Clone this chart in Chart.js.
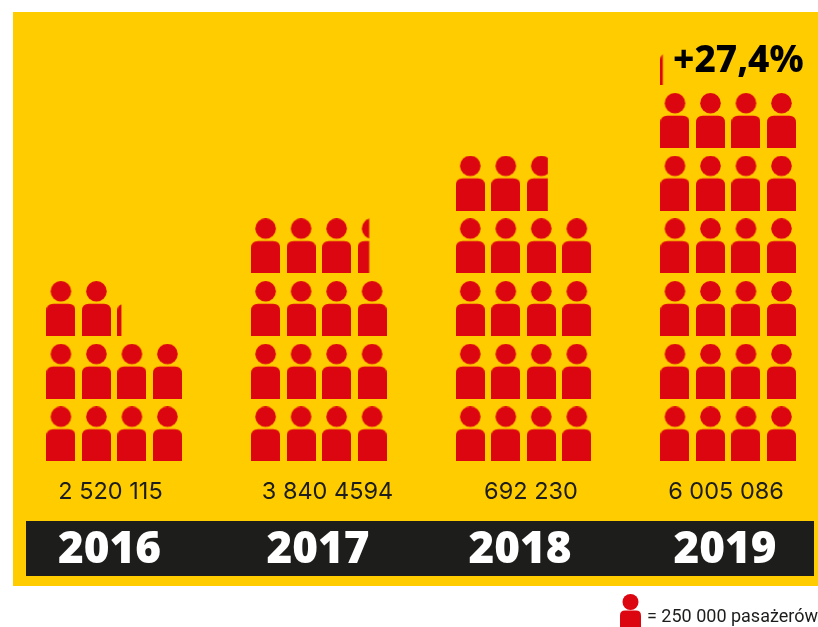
<!DOCTYPE html>
<html>
<head>
<meta charset="utf-8">
<title>Pasażerowie</title>
<script src="https://cdn.jsdelivr.net/npm/chart.js@4"></script>
<style>
  html, body { margin: 0; padding: 0; background: #fff; overflow: hidden; }
  canvas { display: block; }
</style>
</head>
<body>
<canvas id="paxChart" width="818" height="627"></canvas>
<script>
const years = ['2016', '2017', '2018', '2019'];
const paxLabels = ['2 520 115', '3 840 4594', '692 230', '6 005 086'];
// icons drawn per year, one icon = 250 000 passengers (fraction = cut last icon)
const iconCounts = [10.14, 15.40, 18.72, 24.08];
const growthLabel = '+27,4%';
const legendLabel = '= 250 000 pasażerów';

const RED = '#dc0611';
const YELLOW = '#ffcc00';
const DARK = '#1d1d1b';

const PITCH_X = 35.5;   // px per icon column
const PITCH_Y = 62.7;   // px per icon row
const ICON_W = 29;
const ICON_H = 55;

function personShape(c, x, top, w, h, headR) {
    c.beginPath();
    c.arc(x + w / 2, top + headR, headR, 0, Math.PI * 2);
    c.fill();
    const bodyTop = top + h * 0.415;
    const r = w * 0.24;
    c.beginPath();
    c.moveTo(x, top + h);
    c.lineTo(x, bodyTop + r);
    c.quadraticCurveTo(x, bodyTop, x + r, bodyTop);
    c.lineTo(x + w - r, bodyTop);
    c.quadraticCurveTo(x + w, bodyTop, x + w, bodyTop + r);
    c.lineTo(x + w, top + h);
    c.closePath();
    c.fill();
}

// icon sprite, share = how much of its width is shown
function makeIcon(share) {
    const cv = document.createElement('canvas');
    cv.width = ICON_W;
    cv.height = ICON_H;
    const c = cv.getContext('2d');
    c.fillStyle = RED;
    c.beginPath();
    c.rect(0, 0, ICON_W * share, ICON_H);
    c.clip();
    personShape(c, 0, 0, ICON_W, ICON_H, 10.3);
    return cv;
}

const fullIcon = makeIcon(1);
const xOf = (g, col) => 1.715 + g * 5.766 + col;

const datasets = years.map(function(year, g) {
    const points = [];
    const styles = [];
    const whole = Math.floor(iconCounts[g]);
    const rest = iconCounts[g] - whole;
    for (let i = 0; i < whole; i++) {
        points.push({ x: xOf(g, i % 4), y: Math.floor(i / 4) + 0.44 });
        styles.push(fullIcon);
    }
    if (rest > 0) {
        points.push({ x: xOf(g, whole % 4), y: Math.floor(whole / 4) + 0.44 });
        styles.push(makeIcon(rest));
    }
    return { label: year, data: points, pointStyle: styles, showLine: false };
});

const paperPlugin = {
    id: 'paper',
    beforeDraw(chart) {
        const c = chart.ctx;
        c.save();
        c.fillStyle = YELLOW;
        c.fillRect(13, 12, 805, 574);
        c.fillStyle = DARK;
        c.fillRect(26, 521, 788, 55);
        c.restore();
    },
    afterDraw(chart) {
        const c = chart.ctx;
        c.save();
        c.fillStyle = '#000';
        c.font = '800 37px "Noto Sans"';
        c.textBaseline = 'alphabetic';
        c.fillText(growthLabel, 673, 72);
        c.fillStyle = DARK;
        c.font = '400 18px Roboto';
        c.fillText(legendLabel, 647, 622);
        c.fillStyle = RED;
        personShape(c, 620, 594, 21, 40, 8);
        c.restore();
    }
};

// stop the axis reserving room for half of its first and last label
function noSidePadding(axis) {
    axis.paddingLeft = 0;
    axis.paddingRight = 0;
}

new Chart(document.getElementById('paxChart'), {
    type: 'scatter',
    data: { datasets: datasets },
    plugins: [paperPlugin],
    options: {
        responsive: false,
        animation: false,
        layout: { autoPadding: false, padding: { bottom: 627 - 576 } },
        plugins: { legend: { display: false }, tooltip: { enabled: false } },
        scales: {
            y: { display: false, min: 0, max: 461.5 / PITCH_Y },
            x: {
                min: 0, max: 818 / PITCH_X,
                border: { display: false },
                grid: { display: false },
                afterBuildTicks(axis) {
                    axis.ticks = [110.5, 327.5, 531, 726].map(p => ({ value: p / PITCH_X }));
                },
                afterFit(axis) { axis.height = 57; noSidePadding(axis); },
                ticks: {
                    autoSkip: false, maxRotation: 0, padding: 8,
                    color: DARK,
                    font: { family: 'Inter', size: 23.5, weight: '400' },
                    callback: (v, i) => paxLabels[i]
                }
            },
            xYear: {
                type: 'linear', position: 'bottom',
                min: 0, max: 818 / PITCH_X,
                border: { display: false },
                grid: { display: false },
                afterBuildTicks(axis) {
                    axis.ticks = [109.5, 318, 520, 725].map(p => ({ value: p / PITCH_X }));
                },
                afterFit(axis) { axis.height = 627 - 51 - 461.5 - 57; noSidePadding(axis); },
                ticks: {
                    autoSkip: false, maxRotation: 0, padding: -2,
                    color: '#fff',
                    font: { family: 'Noto Sans', size: 44, weight: '900' },
                    callback: (v, i) => years[i]
                }
            }
        }
    }
});
</script>
</body>
</html>
